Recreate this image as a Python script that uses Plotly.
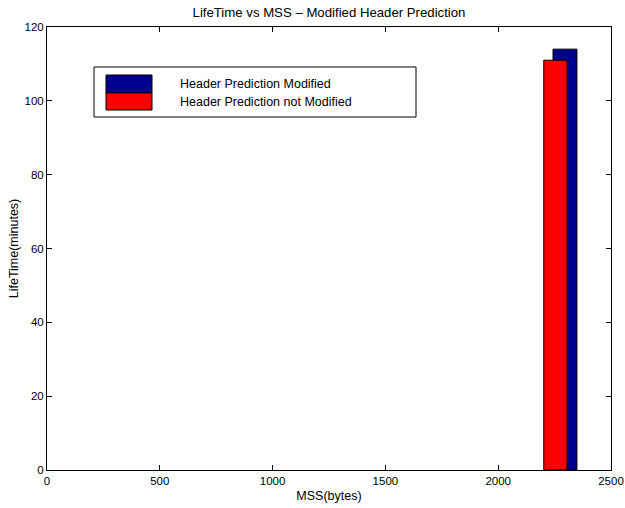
import plotly.graph_objects as go

mss = [2275]
life_modified = [114]
life_not_modified = [111]
series_names = ["Header Prediction Modified", "Header Prediction not Modified"]
x_ticks = [0, 500, 1000, 1500, 2000, 2500]
y_ticks = [0, 20, 40, 60, 80, 100, 120]

BLUE = "#00008F"
RED = "#FF0000"
FONT = "Liberation Sans, Arial, Helvetica, sans-serif"

fig = go.Figure()
fig.add_trace(go.Bar(x=mss, y=life_modified, name=series_names[0], width=106, offset=-32,
                     marker=dict(color=BLUE, line=dict(color="black", width=1))))
fig.add_trace(go.Bar(x=mss, y=life_not_modified, name=series_names[1], width=103, offset=-73,
                     marker=dict(color=RED, line=dict(color="black", width=1))))

W, H = 625, 508
L, R, T, B = 47, 14, 27, 38
pw, ph = W - L - R, H - T - B

def px(x):
    return (x - L) / pw

def py(y):
    return (H - B - y) / ph

shapes = [
    dict(type="rect", xref="paper", yref="paper", x0=px(94), x1=px(416), y0=py(117), y1=py(67),
         line=dict(color="black", width=1), fillcolor="white", layer="above"),
    dict(type="rect", xref="paper", yref="paper", x0=px(106), x1=px(152), y0=py(93), y1=py(75),
         line=dict(color="black", width=1), fillcolor=BLUE, layer="above"),
    dict(type="rect", xref="paper", yref="paper", x0=px(106), x1=px(152), y0=py(110), y1=py(93),
         line=dict(color="black", width=1), fillcolor=RED, layer="above"),
]
annotations = [
    dict(text=series_names[0], xref="paper", yref="paper", x=px(178), y=py(84), xanchor="left",
         yanchor="middle", showarrow=False, font=dict(family=FONT, size=12.5, color="black")),
    dict(text=series_names[1], xref="paper", yref="paper", x=px(178), y=py(102), xanchor="left",
         yanchor="middle", showarrow=False, font=dict(family=FONT, size=12.5, color="black")),
]

fig.update_layout(
    width=W, height=H,
    margin=dict(l=L, r=R, t=T, b=B, pad=0, autoexpand=False),
    paper_bgcolor="white", plot_bgcolor="white",
    barmode="overlay",
    showlegend=False,
    hovermode=False,
    font=dict(family=FONT, size=11.5, color="black"),
    title=dict(text="LifeTime vs MSS – Modified Header Prediction", xref="paper", x=px(329),
               xanchor="center", yref="container", y=1 - 12 / H, yanchor="middle",
               font=dict(family=FONT, size=13.2)),
    xaxis=dict(range=[0, 2500], tickvals=x_ticks, ticks="inside", ticklen=5, tickcolor="black",
               showline=True, linecolor="black", linewidth=1, mirror="ticks", showgrid=False,
               zeroline=False, tickfont=dict(size=11.5),
               title=dict(text="MSS(bytes)", standoff=5, font=dict(size=12.5))),
    yaxis=dict(range=[0, 120], tickvals=y_ticks, ticks="inside", ticklen=5, tickcolor="black",
               showline=True, linecolor="black", linewidth=1, mirror="ticks", showgrid=False,
               zeroline=False, tickfont=dict(size=11.5),
               title=dict(text="LifeTime(minutes)", standoff=3, font=dict(size=12.5))),
    shapes=shapes,
    annotations=annotations,
)

fig.write_html("out.html", config={"displayModeBar": False, "staticPlot": True},
               post_script="document.body.style.margin='0';document.body.style.overflow='hidden';")
